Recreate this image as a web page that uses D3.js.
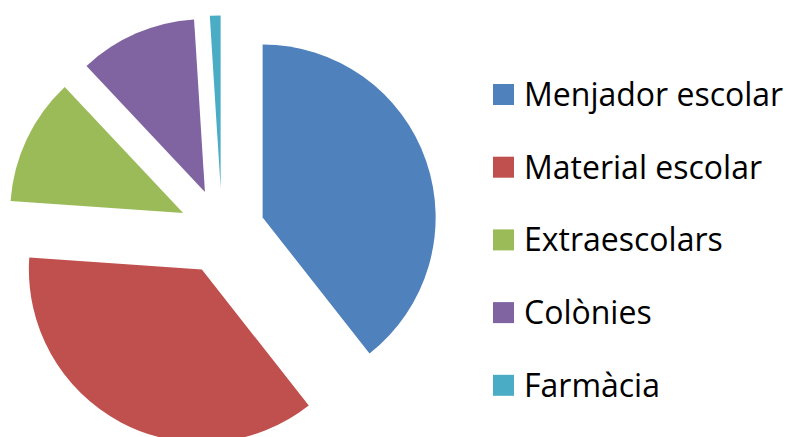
<!DOCTYPE html>
<html>
<head>
<meta charset="utf-8">
<script src="https://cdn.jsdelivr.net/npm/d3@7"></script>
<style>
  html, body { margin: 0; padding: 0; background: #fff; }
  svg { display: block; }
</style>
</head>
<body>
<svg id="chart" width="790" height="437"></svg>
<script>
const categories = ["Menjador escolar", "Material escolar", "Extraescolars", "Colònies", "Farmàcia"];
const values = [39.4, 36.7, 11.9, 11.0, 1.0];
const colors = ["#4F81BD", "#C0504D", "#9BBB59", "#8064A2", "#4BACC6"];

const svg = d3.select("#chart");
const cx = 222, cy = 231.5, radius = 173, explode = 43;

const pie = d3.pie().sort(null).value(d => d)(values);
const arc = d3.arc().innerRadius(0).outerRadius(radius);

const g = svg.append("g").attr("transform", `translate(${cx},${cy})`);
g.selectAll("path")
  .data(pie)
  .join("path")
  .attr("d", arc)
  .attr("fill", (d, i) => colors[i])
  .attr("transform", d => {
    const a = (d.startAngle + d.endAngle) / 2;
    return `translate(${explode * Math.sin(a)},${-explode * Math.cos(a)})`;
  });

// Legend
const legendX = 493, legendY0 = 94.5, legendStep = 72.7, sq = 21;
const lg = svg.append("g");
const items = lg.selectAll("g")
  .data(categories)
  .join("g")
  .attr("transform", (d, i) => `translate(${legendX},${legendY0 + i * legendStep})`);
items.append("rect")
  .attr("x", 0).attr("y", -sq / 2)
  .attr("width", sq).attr("height", sq)
  .attr("fill", (d, i) => colors[i]);
items.append("text")
  .attr("x", 31).attr("y", 11.5)
  .attr("font-family", "'Open Sans', sans-serif")
  .attr("font-size", 32)
  .attr("fill", "#000")
  .text(d => d);
</script>
</body>
</html>
